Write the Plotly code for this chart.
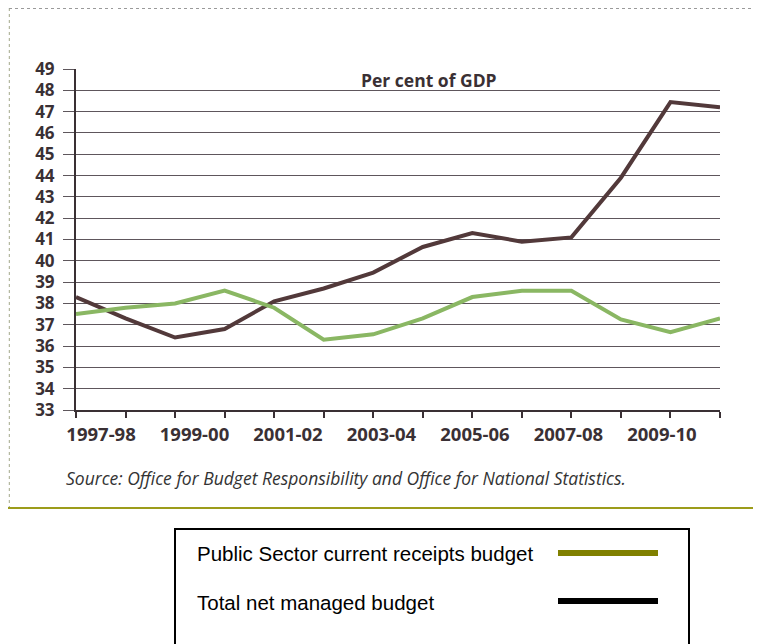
import plotly.graph_objects as go

# ---- data ----
years = ["1997-98", "1998-99", "1999-00", "2000-01", "2001-02", "2002-03", "2003-04",
         "2004-05", "2005-06", "2006-07", "2007-08", "2008-09", "2009-10", "2010-11"]
receipts = [37.5, 37.8, 38.0, 38.6, 37.8, 36.3, 36.55, 37.3, 38.3, 38.6, 38.6, 37.25, 36.65, 37.3]
tnmb = [38.3, 37.3, 36.4, 36.8, 38.1, 38.7, 39.45, 40.65, 41.3, 40.9, 41.1, 43.9, 47.45, 47.2]
label_years = ["1997-98", "1999-00", "2001-02", "2003-04", "2005-06", "2007-08", "2009-10"]
y_ticks = list(range(33, 50))

# figure is placed at (8, 8) in the page by the default body margin
W, H = 753, 636
L, R, T, B = 68, 712, 61, 402  # plot area in figure pixels


def px(x):
    return (x - L) / (R - L)


def py(y):
    return (B - y) / (B - T)


FONT = "Open Sans"
DARK = "#3a3034"
GRID = "#5e565c"

fig = go.Figure()
fig.add_trace(go.Scatter(x=years, y=tnmb, mode="lines", name="Total net managed budget",
                         line=dict(color="#52393a", width=4), showlegend=False))
fig.add_trace(go.Scatter(x=years, y=receipts, mode="lines",
                         name="Public Sector current receipts budget",
                         line=dict(color="#8ab763", width=4), showlegend=False))
# empty trace that only registers the label axis
fig.add_trace(go.Scatter(x=[], y=[], xaxis="x2", yaxis="y", showlegend=False,
                         hoverinfo="skip"))

label_pos = [0.505 + 1.887 * i for i in range(len(label_years))]

fig.update_layout(
    width=W, height=H,
    margin=dict(l=L, r=W - R, t=T, b=H - B, pad=0),
    paper_bgcolor="white", plot_bgcolor="white",
    showlegend=False,
    xaxis=dict(type="category", range=[0, len(years) - 1], showgrid=False, zeroline=False,
               showline=True, linecolor=DARK, linewidth=2,
               ticks="outside", ticklen=6, tickwidth=1.5, tickcolor=DARK,
               showticklabels=False),
    xaxis2=dict(type="linear", overlaying="x", anchor="y", side="bottom",
                range=[0, len(years) - 1],
                tickmode="array", tickvals=label_pos, ticktext=label_years,
                showgrid=False, zeroline=False, showline=False, ticks="",
                ticklabelstandoff=11,
                tickfont=dict(family=FONT, size=18.5, color=DARK, weight=700)),
    yaxis=dict(range=[33, 49], tickmode="array", tickvals=y_ticks, showgrid=True,
               gridcolor=GRID, gridwidth=1, zeroline=False,
               showline=True, linecolor=DARK, linewidth=2,
               ticks="outside", ticklen=11, tickwidth=1, tickcolor=GRID,
               ticklabelstandoff=5,
               tickfont=dict(family=FONT, size=17, color=DARK, weight=700)),
)

shapes = [
    # frame
    dict(type="line", xref="paper", yref="paper", x0=px(1.3), x1=px(1.3), y0=py(0), y1=py(500),
         line=dict(color="#a3a88a", width=1, dash="dot")),
    dict(type="line", xref="paper", yref="paper", x0=px(1), x1=px(105), y0=py(0.5), y1=py(0.5),
         line=dict(color="#9a9a9a", width=1, dash="dot")),
    dict(type="line", xref="paper", yref="paper", x0=px(110), x1=px(W), y0=py(0.5), y1=py(0.5),
         line=dict(color="#9a9a9a", width=1, dash="dot")),
    dict(type="line", xref="paper", yref="paper", x0=px(0), x1=px(W), y0=py(500), y1=py(500),
         line=dict(color="#9c9c1a", width=2)),
    # legend box
    dict(type="rect", xref="paper", yref="paper", x0=px(167), x1=px(681), y0=py(521), y1=py(660),
         line=dict(color="black", width=2), fillcolor="rgba(0,0,0,0)"),
    dict(type="line", xref="paper", yref="paper", x0=px(550), x1=px(650), y0=py(545), y1=py(545),
         line=dict(color="#808000", width=6)),
    dict(type="line", xref="paper", yref="paper", x0=px(550), x1=px(650), y0=py(593), y1=py(593),
         line=dict(color="black", width=6)),
]

annotations = [
    dict(text="Per cent of GDP", xref="paper", yref="paper", x=px(421), y=py(72),
         xanchor="center", yanchor="middle", showarrow=False,
         font=dict(family=FONT, size=17.5, color=DARK, weight=700)),
    dict(text="<i>Source: Office for Budget Responsibility and Office for National Statistics.</i>",
         xref="paper", yref="paper", x=px(56), y=py(470), xanchor="left", yanchor="middle",
         showarrow=False, font=dict(family=FONT, size=17.5, color="#333333")),
    dict(text="Public Sector current receipts budget", xref="paper", yref="paper",
         x=px(187), y=py(545), xanchor="left", yanchor="middle", showarrow=False,
         font=dict(family="Liberation Sans", size=20.5, color="black")),
    dict(text="Total net managed budget", xref="paper", yref="paper",
         x=px(187), y=py(594), xanchor="left", yanchor="middle", showarrow=False,
         font=dict(family="Liberation Sans", size=20.5, color="black")),
]

fig.update_layout(shapes=shapes, annotations=annotations)
fig.write_html("out.html")
